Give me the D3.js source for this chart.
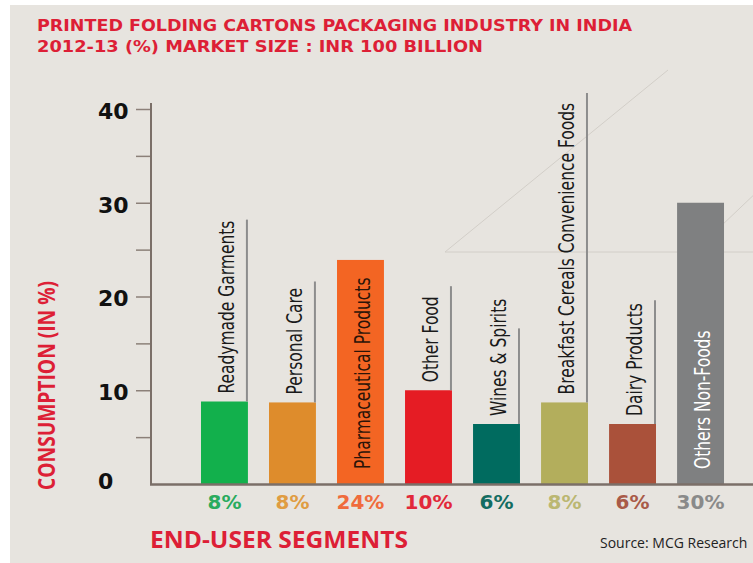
<!DOCTYPE html>
<html>
<head>
<meta charset="utf-8">
<script src="https://cdn.jsdelivr.net/npm/d3@7"></script>
<style>
  html, body { margin: 0; padding: 0; background: #ffffff; }
  svg { display: block; }
</style>
</head>
<body>
<svg id="chart" width="753" height="563"></svg>
<script>
// ---- data ----
const categories = ["Readymade Garments", "Personal Care", "Pharmaceutical Products", "Other Food",
  "Wines & Spirits", "Breakfast Cereals Convenience Foods", "Dairy Products", "Others Non-Foods"];
const values = [8.8, 8.7, 23.9, 10.0, 6.4, 8.7, 6.4, 30.0];
const shareLabels = ["8%", "8%", "24%", "10%", "6%", "8%", "6%", "30%"];
const leaderEnds = [28.2, 21.6, null, 21.1, 16.6, 41.7, 19.6, null];
const majorTicks = [10, 20, 30, 40];
const minorTicks = [5, 15, 25, 35];
const tickLabels = ["0", "10", "20", "30", "40"];
const tickLabelValues = [0, 10, 20, 30, 40];
const titleLines = ["PRINTED FOLDING CARTONS PACKAGING INDUSTRY IN INDIA",
  "2012-13 (%) MARKET SIZE : INR 100 BILLION"];
const yTitle = "CONSUMPTION (IN %)";
const xTitle = "END-USER SEGMENTS";
const sourceText = "Source: MCG Research";

// ---- styles ----
const barColors = ["#12b04c", "#de8c2c", "#f36523", "#e51c24", "#006b5f", "#b3ae5c", "#aa513a", "#7f8081"];
const shareColors = ["#2aab5e", "#e09c42", "#f06b3c", "#e2283a", "#136c61", "#bbb772", "#a95a48", "#8a8a8a"];
const red = "#dd1f36";
const titleWidths = [595, 446];

const svg = d3.select("#chart");
// background
svg.append("rect").attr("x", 0).attr("y", 0).attr("width", 753).attr("height", 563).attr("fill", "#ffffff");
svg.append("rect").attr("x", 10).attr("y", 5).attr("width", 743).attr("height", 558).attr("fill", "#e7e4df");

// decorative faint lines
const deco = svg.append("g").attr("stroke", "#d2cec8").attr("stroke-width", 1).attr("fill", "none");
deco.append("line").attr("x1", 445).attr("y1", 252).attr("x2", 753).attr("y2", 252);
deco.append("line").attr("x1", 445).attr("y1", 252).attr("x2", 668).attr("y2", 70);
deco.append("line").attr("x1", 700).attr("y1", 246).attr("x2", 760).attr("y2", 189);

// scales
const y = d3.scaleLinear().domain([0, 40]).range([484, 109]);
const x = d3.scaleBand().domain(categories).range([151, 774]).paddingInner(0.31).paddingOuter(0.735);
const bw = x.bandwidth();

// title
svg.append("g").selectAll("text").data(titleLines).join("text")
  .attr("x", 37).attr("y", (d, i) => 31 + i * 21)
  .attr("font-family", "'DejaVu Sans', sans-serif").attr("font-weight", "bold")
  .attr("font-size", 16).attr("fill", red)
  .attr("textLength", (d, i) => titleWidths[i]).attr("lengthAdjust", "spacingAndGlyphs")
  .text(d => d);

// y axis ticks
const yAxis = d3.axisLeft(y).tickValues(majorTicks.concat(minorTicks)).tickSize(15).tickSizeOuter(0).tickFormat("");
const ag = svg.append("g").attr("transform", "translate(151,0)").call(yAxis);
ag.select(".domain").remove();
ag.selectAll(".tick line").attr("stroke", "#8c8079").attr("stroke-width", 1.5);
svg.append("line").attr("x1", 151).attr("x2", 151).attr("y1", y(40) - 6).attr("y2", y(0) + 1)
  .attr("stroke", "#7b6f68").attr("stroke-width", 2);

svg.append("g").selectAll("text").data(tickLabelValues).join("text")
  .attr("x", 98).attr("y", d => y(d) + (d === 0 ? -3 : 2))
  .attr("dy", "0.36em")
  .attr("font-family", "'DejaVu Sans', sans-serif").attr("font-weight", "bold")
  .attr("font-size", 22).attr("fill", "#111").text((d, i) => tickLabels[i]);

// bars
svg.append("g").selectAll("rect").data(values).join("rect")
  .attr("x", (d, i) => x(categories[i])).attr("y", d => y(d))
  .attr("width", bw).attr("height", d => y(0) - y(d))
  .attr("fill", (d, i) => barColors[i]);

// baseline
svg.append("line").attr("x1", 150).attr("x2", 753).attr("y1", y(0) + 0.5).attr("y2", y(0) + 0.5)
  .attr("stroke", "#7b6f68").attr("stroke-width", 2.5);

// leader lines
svg.append("g").selectAll("line").data(leaderEnds.map((e, i) => ({ e, i })).filter(d => d.e !== null)).join("line")
  .attr("x1", d => x(categories[d.i]) + bw - 1).attr("x2", d => x(categories[d.i]) + bw - 1)
  .attr("y1", d => y(values[d.i])).attr("y2", d => y(d.e))
  .attr("stroke", "#8d8d8d").attr("stroke-width", 2);

// category labels (condensed horizontally along the text direction)
svg.append("g").selectAll("text").data(categories).join("text")
  .attr("transform", (d, i) => {
    const inside = leaderEnds[i] === null;
    const tx = x(d) + bw * 0.71;
    const ty = inside ? y(0) - 15 : y(values[i]) - 8;
    return `translate(${tx},${ty}) rotate(-90) scale(0.82,1)`;
  })
  .attr("font-family", "'Liberation Sans Narrow', 'DejaVu Sans Condensed', sans-serif")
  .attr("font-size", 21)
  .attr("fill", (d, i) => i === 7 ? "#ffffff" : (i === 2 ? "#2b1408" : "#1a1a1a"))
  .text(d => d);

// share labels
svg.append("g").selectAll("text").data(shareLabels).join("text")
  .attr("x", (d, i) => x(categories[i]) + bw / 2).attr("y", 509)
  .attr("text-anchor", "middle")
  .attr("font-family", "'DejaVu Sans', sans-serif").attr("font-weight", "bold")
  .attr("font-size", 20).attr("fill", (d, i) => shareColors[i]).text(d => d);

// axis titles
svg.append("text").attr("transform", "translate(55,490) rotate(-90)")
  .attr("font-family", "'Open Sans', sans-serif").attr("font-weight", "bold")
  .attr("font-size", 23).attr("fill", red)
  .attr("textLength", 209).attr("lengthAdjust", "spacingAndGlyphs").text(yTitle);

svg.append("text").attr("x", 150).attr("y", 548)
  .attr("font-family", "'Open Sans', sans-serif").attr("font-weight", "bold")
  .attr("font-size", 23).attr("fill", red)
  .attr("textLength", 258).attr("lengthAdjust", "spacingAndGlyphs").text(xTitle);

svg.append("text").attr("x", 600).attr("y", 548)
  .attr("font-family", "'Open Sans', sans-serif").attr("font-size", 14).attr("fill", "#222")
  .text(sourceText);
</script>
</body>
</html>
